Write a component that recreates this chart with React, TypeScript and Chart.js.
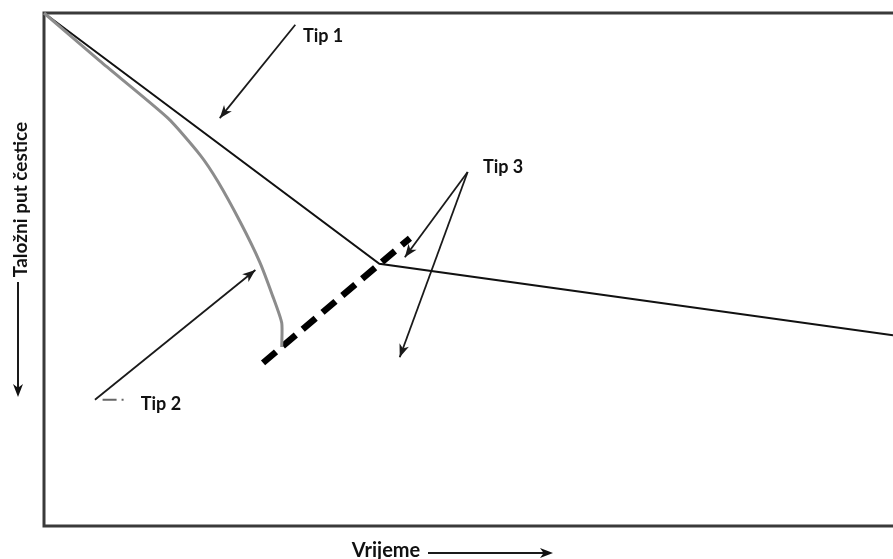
import React, { useEffect, useRef } from "react";
import { Chart, registerables } from "chart.js";
Chart.register(...registerables);

// Coordinates: x = time (0..100), y = settling path (0..100, increasing downward)
const tip1X = [0, 39.5, 100];
const tip1Y = [0, 48.9, 62.8];
const tip2X = [0, 6.6, 14.6, 18.4, 20.5, 23.1, 25.4, 26.9, 28.0, 28.0];
const tip2Y = [0, 9.4, 20.5, 27.7, 32.9, 40.7, 48.5, 55.0, 60.4, 65.1];
const tip3X = [25.8, 43.1];
const tip3Y = [68.2, 43.9];
const tip2KeyX = [6.9, 9.6];
const tip2KeyY = [75.4, 75.4];

const arrowFromX = [29.6, 49.9, 49.9, 6.0];
const arrowFromY = [2.3, 31.0, 31.0, 75.4];
const arrowToX = [20.7, 42.5, 41.9, 24.9];
const arrowToY = [20.5, 47.6, 67.1, 50.1];

const labelText = ["Tip 1", "Tip 3", "Tip 2"];
const labelX = [30.5, 51.7, 11.4];
const labelY = [5.65, 31.2, 77.4];

const xTitle = "Vrijeme";
const yTitle = "Taložni put čestice";

const FONT_TIP = "bold 18px Lato";
const FONT_Y = "bold 19px Lato";
const FONT_X = "bold 20px Lato";

function pts(xs: number[], ys: number[]) {
  return xs.map((x, i) => ({ x, y: ys[i] }));
}

function arrowHead(ctx: CanvasRenderingContext2D, x1: number, y1: number, x2: number, y2: number, len = 13, half = 5) {
  const ang = Math.atan2(y2 - y1, x2 - x1);
  const c = Math.cos(ang), s = Math.sin(ang);
  const bx = x2 - len * c, by = y2 - len * s;
  const nx = x2 - len * 0.72 * c, ny = y2 - len * 0.72 * s;
  ctx.beginPath();
  ctx.moveTo(x2, y2);
  ctx.lineTo(bx - half * s, by + half * c);
  ctx.lineTo(nx, ny);
  ctx.lineTo(bx + half * s, by - half * c);
  ctx.closePath();
  ctx.fill();
}

const overlay = {
  id: "overlay",
  beforeDatasetsDraw(chart: any) {
    const { ctx, chartArea: a } = chart;
    ctx.save();
    ctx.strokeStyle = "#3a3a3a";
    ctx.lineWidth = 3;
    ctx.beginPath();
    ctx.moveTo(a.right + 5, a.top);
    ctx.lineTo(a.left, a.top);
    ctx.lineTo(a.left, a.bottom);
    ctx.lineTo(a.right + 5, a.bottom);
    ctx.stroke();
    ctx.restore();
  },
  afterDatasetsDraw(chart: any) {
    const { ctx, chartArea: a, scales } = chart;
    const xs = scales.x, ys = scales.y;
    ctx.save();
    ctx.fillStyle = "#1a1a1a";
    for (let i = 0; i < arrowFromX.length; i++) {
      arrowHead(
        ctx,
        xs.getPixelForValue(arrowFromX[i]),
        ys.getPixelForValue(arrowFromY[i]),
        xs.getPixelForValue(arrowToX[i]),
        ys.getPixelForValue(arrowToY[i])
      );
    }
    ctx.font = FONT_TIP;
    ctx.fillStyle = "#111";
    ctx.textAlign = "left";
    ctx.textBaseline = "alphabetic";
    for (let i = 0; i < labelText.length; i++) {
      ctx.fillText(labelText[i], xs.getPixelForValue(labelX[i]), ys.getPixelForValue(labelY[i]));
    }
    // y title
    const yx = a.left - 26;
    ctx.save();
    ctx.font = FONT_Y;
    ctx.translate(a.left - 17, 199.5);
    ctx.rotate(-Math.PI / 2);
    ctx.textAlign = "center";
    ctx.fillText(yTitle, 0, 0);
    ctx.restore();
    ctx.strokeStyle = "#1a1a1a";
    ctx.lineWidth = 2;
    ctx.beginPath();
    ctx.moveTo(yx, 282);
    ctx.lineTo(yx, 390);
    ctx.stroke();
    arrowHead(ctx, yx, 282, yx, 397, 13, 5);
    // x title
    ctx.font = FONT_X;
    ctx.textAlign = "center";
    ctx.fillText(xTitle, 386, 557);
    const ay = 553;
    ctx.beginPath();
    ctx.moveTo(428, ay);
    ctx.lineTo(545, ay);
    ctx.stroke();
    arrowHead(ctx, 428, ay, 553, ay, 13, 5);
    ctx.restore();
  },
};

export default function App() {
  const ref = useRef<HTMLCanvasElement | null>(null);
  useEffect(() => {
    document.body.style.margin = "0";
    const canvas = ref.current!;
    const arrowSets = arrowFromX.map((_, i) => ({
      data: pts([arrowFromX[i], arrowToX[i]], [arrowFromY[i], arrowToY[i]]),
      borderColor: "#1a1a1a",
      borderWidth: 1.8,
      showLine: true,
      pointRadius: 0,
      clip: false as any,
    }));
    let chart: Chart | null = null;
    let cancelled = false;
    const build = () => {
      if (cancelled) return;
      chart = new Chart(canvas, {
        type: "scatter",
        data: {
          datasets: [
            { data: pts(tip2X, tip2Y), borderColor: "#8c8c8c", borderWidth: 3, showLine: true, pointRadius: 0, tension: 0.2, clip: false as any },
            { data: pts(tip1X, tip1Y), borderColor: "#111", borderWidth: 2, showLine: true, pointRadius: 0, clip: false as any },
            { data: pts(tip3X, tip3Y), borderColor: "#000", borderWidth: 6.5, borderDash: [17, 9], borderCapStyle: "butt", showLine: true, pointRadius: 0, clip: false as any },
            { data: pts(tip2KeyX, tip2KeyY), borderColor: "#666", borderWidth: 2, borderDash: [14, 5, 2, 100], showLine: true, pointRadius: 0, clip: false as any },
            ...arrowSets,
          ],
        },
        options: {
          responsive: false,
          animation: false,
          layout: { padding: { left: 44, top: 13, right: 0, bottom: 33 } },
          plugins: { legend: { display: false }, tooltip: { enabled: false } },
          scales: {
            x: { type: "linear", min: 0, max: 100, display: false },
            y: { type: "linear", min: 0, max: 100, reverse: true, display: false },
          },
        },
        plugins: [overlay],
      });
    };
    const fonts = (document as any).fonts;
    if (fonts && fonts.load) {
      Promise.all([fonts.load(FONT_TIP, yTitle), fonts.load(FONT_Y, yTitle), fonts.load(FONT_X, xTitle)]).then(build, build);
    } else {
      build();
    }
    return () => {
      cancelled = true;
      if (chart) chart.destroy();
    };
  }, []);
  return (
    <div style={{ width: 893, height: 559, background: "#fff" }}>
      <canvas ref={ref} width={893} height={559} style={{ display: "block" }} />
    </div>
  );
}
